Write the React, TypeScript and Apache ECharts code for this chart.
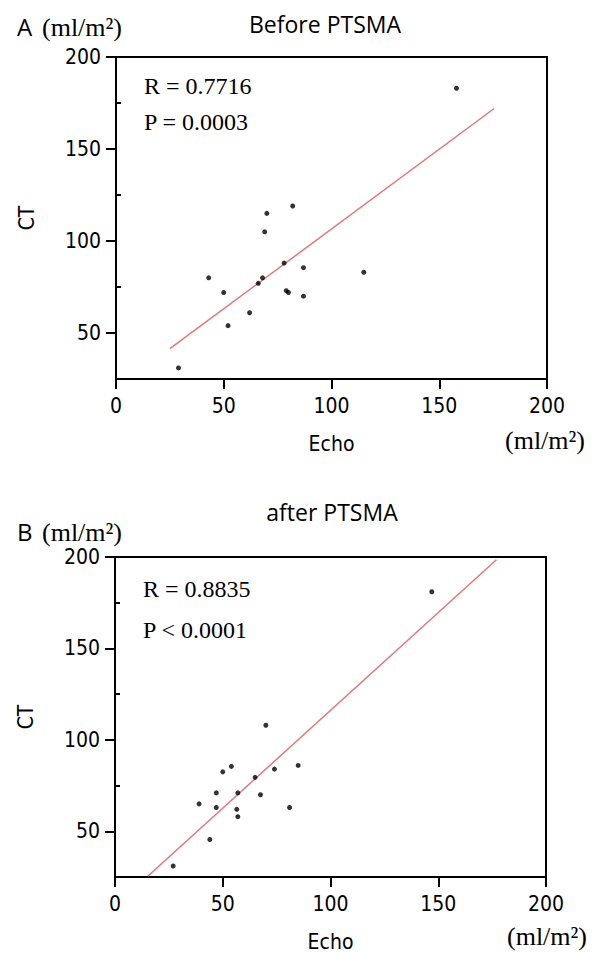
import React, { useEffect, useRef } from "react";
import * as echarts from "echarts";

// ---- data ----
const xTicks = [0, 50, 100, 150, 200];
const yMajorTicks = [50, 100, 150, 200];
const yMinorTicks = [25, 75, 125, 175];

const beforeEcho = [158, 82, 70, 69, 78, 87, 115, 43, 68, 66, 50, 79, 80, 87, 62, 52, 29];
const beforeCT = [183, 119, 115, 105, 88, 85.5, 83, 80, 80, 77, 72, 73, 72, 70, 61, 54, 31];
const beforeFitEcho = [25, 175.5];
const beforeFitCT = [41.5, 172];

const afterEcho = [147, 70, 85, 54, 74, 50, 65, 47, 57, 67.5, 39, 47, 81, 56.5, 57, 44, 27];
const afterCT = [181, 108, 86, 85.5, 84, 82.5, 79.5, 71, 71, 70, 65, 63, 63, 62, 58, 45.5, 31];
const afterFitEcho = [15.2, 177];
const afterFitCT = [25.4, 198.5];

const titles = ["Before PTSMA", "after PTSMA"];
const panelLetters = ["A", "B"];
const statsR = ["R = 0.7716", "R = 0.8835"];
const statsP = ["P = 0.0003", "P < 0.0001"];
const unit = "(ml/m²)";

const SANS = "'DejaVu Sans Condensed', 'DejaVu Sans', sans-serif";
const SERIF = "'Liberation Serif', 'Times New Roman', serif";
const TITLE_FONT = "'Open Sans', 'Noto Sans', sans-serif";

const zip = (a: number[], b: number[]) => a.map((v, i) => [v, b[i]]);

export default function App() {
  const ref = useRef<HTMLDivElement>(null);

  useEffect(() => {
    document.body.style.margin = "0";
    if (!ref.current) return;
    const chart = echarts.init(ref.current, null, { renderer: "svg" });

    const grids = [
      { left: 116, width: 431, top: 57, height: 322 },
      { left: 115, width: 431, top: 557, height: 322 },
    ];

    const xAxes = grids.map((_, i) => ({
      type: "value",
      gridIndex: i,
      min: 0,
      max: 200,
      interval: 50,
      name: "Echo",
      nameLocation: "middle",
      nameGap: 54,
      nameTextStyle: { fontFamily: SANS, fontSize: 21, color: "#000" },
      axisLine: { show: true, onZero: false, lineStyle: { color: "#000", width: 2 } },
      axisTick: { show: true, inside: false, length: 10, lineStyle: { color: "#000", width: 2 } },
      axisLabel: {
        margin: 16,
        fontFamily: SANS,
        fontSize: 21,
        color: "#000",
        customValues: xTicks,
      },
      splitLine: { show: false },
    }));

    const yAxes: any[] = [];
    grids.forEach((_, i) => {
      yAxes.push({
        type: "value",
        gridIndex: i,
        min: 25,
        max: 200,
        interval: 25,
        name: "CT",
        nameLocation: "middle",
        nameGap: 79,
        nameTextStyle: { fontFamily: SANS, fontSize: 21, color: "#000" },
        axisLine: { show: true, onZero: false, lineStyle: { color: "#000", width: 2 } },
        axisTick: {
          show: true,
          length: 10,
          customValues: yMajorTicks,
          lineStyle: { color: "#000", width: 2 },
        },
        axisLabel: {
          margin: 15,
          fontFamily: SANS,
          fontSize: 21,
          color: "#000",
          customValues: yMajorTicks,
        },
        splitLine: { show: false },
      });
      yAxes.push({
        type: "value",
        gridIndex: i,
        min: 25,
        max: 200,
        interval: 25,
        axisLine: { show: false },
        axisTick: {
          show: true,
          length: 5,
          customValues: yMinorTicks,
          lineStyle: { color: "#000", width: 2 },
        },
        axisLabel: { show: false },
        splitLine: { show: false },
      });
    });

    const series: any[] = [
      {
        type: "line",
        xAxisIndex: 0,
        yAxisIndex: 0,
        data: zip(beforeFitEcho, beforeFitCT),
        showSymbol: false,
        symbol: "none",
        lineStyle: { color: "#e07878", width: 1.5 },
        z: 2,
      },
      {
        type: "scatter",
        xAxisIndex: 0,
        yAxisIndex: 0,
        data: zip(beforeEcho, beforeCT),
        symbolSize: 5,
        itemStyle: { color: "#000" },
        z: 3,
      },
      {
        type: "line",
        xAxisIndex: 1,
        yAxisIndex: 2,
        data: zip(afterFitEcho, afterFitCT),
        showSymbol: false,
        symbol: "none",
        lineStyle: { color: "#e07878", width: 1.5 },
        z: 2,
      },
      {
        type: "scatter",
        xAxisIndex: 1,
        yAxisIndex: 2,
        data: zip(afterEcho, afterCT),
        symbolSize: 5,
        itemStyle: { color: "#000" },
        z: 3,
      },
    ];

    const txt = (text: string, x: number, y: number, fontFamily: string, fontSize: number, align = "left") => ({
      type: "text",
      x,
      y,
      style: { text, fontFamily, fontSize, fill: "#000", align, verticalAlign: "middle" },
    });

    const graphic = [
      txt(panelLetters[0], 17, 26, TITLE_FONT, 24),
      txt(unit, 42, 27, SERIF, 26),
      txt(panelLetters[1], 17, 531, TITLE_FONT, 24),
      txt(unit, 42, 532, SERIF, 26),
      txt(statsR[0], 144, 86, SERIF, 24),
      txt(statsP[0], 144, 122, SERIF, 24),
      txt(statsR[1], 143, 589, SERIF, 24),
      txt(statsP[1], 143, 630, SERIF, 24),
      txt(unit, 505, 440, SERIF, 26),
      txt(unit, 507, 936, SERIF, 26),
    ];

    chart.setOption({
      animation: false,
      backgroundColor: "#fff",
      title: [
        {
          text: titles[0],
          left: 325,
          top: 12,
          textAlign: "center",
          padding: 0,
          textStyle: { fontFamily: TITLE_FONT, fontSize: 23, fontWeight: "normal", color: "#000" },
        },
        {
          text: titles[1],
          left: 332,
          top: 500,
          textAlign: "center",
          padding: 0,
          textStyle: { fontFamily: TITLE_FONT, fontSize: 23, fontWeight: "normal", color: "#000" },
        },
      ],
      grid: grids.map((g) => ({ ...g, show: true, borderColor: "#000", borderWidth: 2, backgroundColor: "transparent" })),
      xAxis: xAxes,
      yAxis: yAxes,
      series,
      graphic,
    });

    return () => chart.dispose();
  }, []);

  return (
    <div
      ref={ref}
      style={{ position: "absolute", left: 0, top: 0, width: 600, height: 953 }}
    />
  );
}
